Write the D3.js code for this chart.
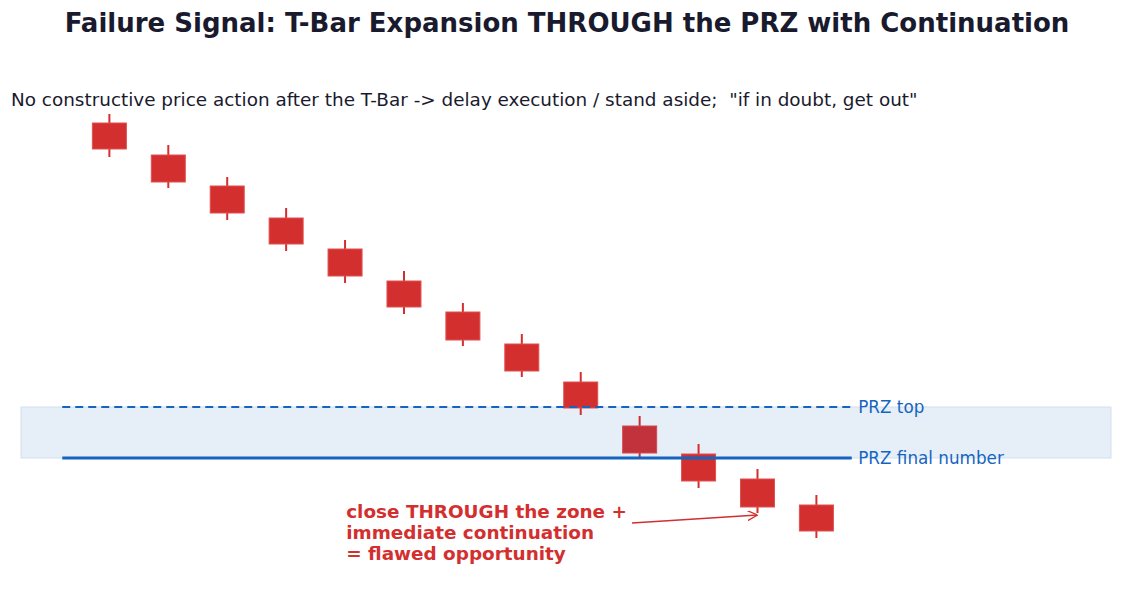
<!DOCTYPE html>
<html>
<head>
<meta charset="utf-8">
<script src="https://cdn.jsdelivr.net/npm/d3@7"></script>
<style>
  body { margin: 0; background: #fff; }
  text { font-family: "DejaVu Sans", sans-serif; }
</style>
</head>
<body>
<script>
// Canvas
const canvWidth = 1123, canvHeight = 608;
const svg = d3.select("body").append("svg")
    .attr("width", canvWidth)
    .attr("height", canvHeight);

// Data (bearish candles stepping down into and through the PRZ)
const candleIdx = [0, 1, 2, 3, 4, 5, 6, 7, 8, 9, 10, 11, 12];
const opens  = [43.7, 40.5, 37.4, 34.2, 31.1, 27.9, 24.8, 21.6, 17.8, 13.4, 10.6, 8.1, 5.5];
const highs  = [44.6, 41.5, 38.3, 35.2, 32.0, 28.9, 25.7, 22.6, 18.8, 14.4, 11.6, 9.1, 6.5];
const lows   = [40.3, 37.2, 34.0, 30.9, 27.7, 24.6, 21.4, 18.3, 14.5, 10.3, 7.2, 4.7, 2.2];
const closes = [41.1, 37.8, 34.7, 31.6, 28.4, 25.3, 22.0, 18.9, 15.2, 10.7, 7.9, 5.3, 2.9];
const tBarIndex = 9;

const przTop = 15.3;
const przFinal = 10.2;
const przLabels = ["PRZ top", "PRZ final number"];

const titleText = "Failure Signal: T-Bar Expansion THROUGH the PRZ with Continuation";
const subtitleText = "No constructive price action after the T-Bar -> delay execution / stand aside;  \"if in doubt, get out\"";
const noteLines = ["close THROUGH the zone +", "immediate continuation", "= flawed opportunity"];

const candles = candleIdx.map((i) => ({
    i: i, open: opens[i], high: highs[i], low: lows[i], close: closes[i]
}));

// Scales
const xScale = d3.scaleLinear().domain([-1.5, 17]).range([21, 1111]);
const yScale = d3.scaleLinear().domain([0, 50]).range([560, 60]);

const red = "#d32f2f", blue = "#1565c0";

// Title and subtitle
svg.append("text")
    .attr("x", 567)
    .attr("y", 32)
    .attr("text-anchor", "middle")
    .attr("font-size", "26px")
    .attr("font-weight", "bold")
    .attr("fill", "#1a1a2e")
    .text(titleText);

svg.append("text")
    .attr("x", 11)
    .attr("y", 106)
    .attr("font-size", "18.4px")
    .attr("fill", "#1a1a2e")
    .style("white-space", "pre")
    .text(subtitleText);

const chart = svg.append("g");

// PRZ band across the whole axes
chart.append("rect")
    .attr("x", xScale(-1.5))
    .attr("y", yScale(przTop))
    .attr("width", xScale(17) - xScale(-1.5))
    .attr("height", yScale(przFinal) - yScale(przTop))
    .attr("fill", "#e6eef8")
    .attr("stroke", "#d3e0f0")
    .attr("stroke-width", 1);

// Candles
const bodyW = 34;
const cg = chart.selectAll("g.candle")
    .data(candles)
    .enter().append("g")
    .attr("class", "candle");

cg.append("line")
    .attr("x1", d => xScale(d.i))
    .attr("x2", d => xScale(d.i))
    .attr("y1", d => yScale(d.high))
    .attr("y2", d => yScale(d.low))
    .attr("stroke", d => d.i === tBarIndex ? "#c62f35" : red)
    .attr("stroke-width", 2);

cg.append("rect")
    .attr("x", d => xScale(d.i) - bodyW / 2)
    .attr("y", d => yScale(Math.max(d.open, d.close)))
    .attr("width", bodyW)
    .attr("height", d => Math.abs(yScale(d.close) - yScale(d.open)))
    .attr("fill", d => d.i === tBarIndex ? "#c2323c" : red)
    .attr("stroke", d => d.i === tBarIndex ? "#d04a52" : "#e05050")
    .attr("stroke-width", 1);

// PRZ lines
chart.append("line")
    .attr("x1", xScale(-0.8)).attr("x2", xScale(12.6))
    .attr("y1", yScale(przTop)).attr("y2", yScale(przTop))
    .attr("stroke", blue)
    .attr("stroke-width", 2.2)
    .attr("stroke-dasharray", "8,5");

chart.append("line")
    .attr("x1", xScale(-0.8)).attr("x2", xScale(12.6))
    .attr("y1", yScale(przFinal)).attr("y2", yScale(przFinal))
    .attr("stroke", blue)
    .attr("stroke-width", 3);

chart.selectAll("text.prz")
    .data([przTop, przFinal])
    .enter().append("text")
    .attr("class", "prz")
    .attr("x", xScale(12.71))
    .attr("y", d => yScale(d))
    .attr("dy", "0.35em")
    .attr("font-size", "16.8px")
    .attr("fill", blue)
    .text((d, i) => przLabels[i]);

// Annotation
svg.append("defs").append("marker")
    .attr("id", "arrow")
    .attr("viewBox", "0 0 10 10")
    .attr("refX", 10).attr("refY", 5)
    .attr("markerWidth", 10).attr("markerHeight", 10)
    .attr("markerUnits", "userSpaceOnUse")
    .attr("orient", "auto")
    .append("path")
    .attr("d", "M0,0 L10,5 L0,10")
    .attr("fill", "none")
    .attr("stroke", red)
    .attr("stroke-width", 1.3);

chart.append("line")
    .attr("x1", xScale(8.87)).attr("y1", yScale(3.7))
    .attr("x2", xScale(11.0)).attr("y2", yScale(4.5))
    .attr("stroke", red)
    .attr("stroke-width", 1.3)
    .attr("marker-end", "url(#arrow)");

chart.append("text")
    .attr("x", xScale(4.02))
    .attr("y", yScale(4.8))
    .attr("font-size", "18.4px")
    .attr("font-weight", "bold")
    .attr("fill", red)
    .selectAll("tspan")
    .data(noteLines)
    .enter().append("tspan")
    .attr("x", xScale(4.02))
    .attr("dy", (d, i) => i === 0 ? "0.35em" : "1.14em")
    .text(d => d);
</script>
</body>
</html>
